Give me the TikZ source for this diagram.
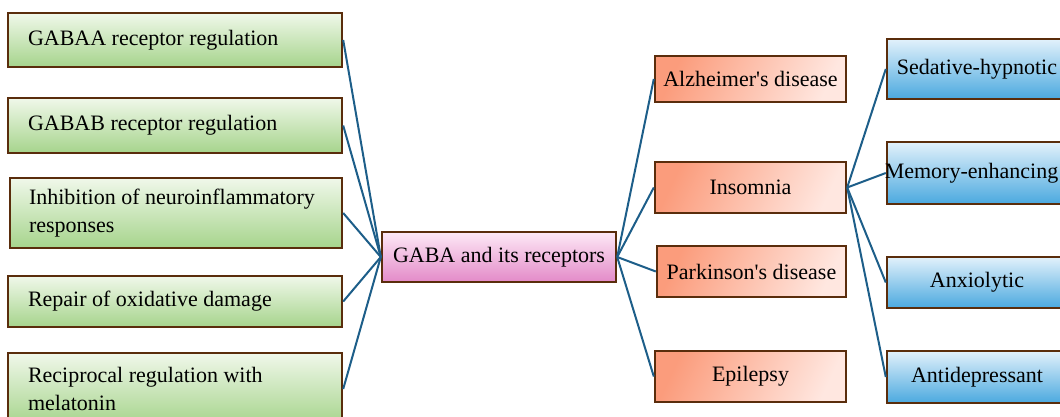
\documentclass[tikz,border=0pt]{standalone}
\usepackage{fontspec}
\setmainfont{Liberation Serif}[Ligatures=TeXOff]
\begin{document}
\begin{tikzpicture}[x=1pt,y=-1pt,
  every node/.style={font=\fontsize{22}{28}\selectfont},
  boxbase/.style={draw=brownline, line width=2.4pt, inner sep=0pt},
  greenbox/.style={boxbase, top color=greentop, bottom color=greenbot, minimum width=334pt, text width=294pt, align=flush left},
  pinkbox/.style={boxbase, top color=pinktop, bottom color=pinkbot, minimum width=234pt, minimum height=50pt, align=center},
  redbox/.style={boxbase, left color=redleft, right color=redright, shading angle=65, minimum width=191pt, minimum height=49pt, align=center},
  bluebox/.style={boxbase, top color=bluetop, middle color=bluemid, bottom color=bluebot, minimum width=180pt, align=center},
  link/.style={draw=linkblue, line width=2pt}
]
\definecolor{brownline}{HTML}{5A2D0C}
\definecolor{greentop}{HTML}{F0F8EA}
\definecolor{greenbot}{HTML}{A6D48C}
\definecolor{pinktop}{HTML}{FDE9F6}
\definecolor{pinkbot}{HTML}{E38AC8}
\definecolor{redleft}{HTML}{FB9C7C}
\definecolor{redright}{HTML}{FFE7E0}
\definecolor{bluetop}{HTML}{E2F1FB}
\definecolor{bluemid}{HTML}{66BBE7}
\definecolor{bluebot}{HTML}{4BA9DF}
\definecolor{linkblue}{HTML}{1D5E89}
\clip (0,0) rectangle (1060,417);

% green boxes
\node[greenbox, minimum height=54pt] (g1) at (175,40) {GABAA receptor regulation};
\node[greenbox, minimum height=55pt] (g2) at (175,125.5) {GABAB receptor regulation};
\node[greenbox, minimum height=70pt, minimum width=332pt] (g3) at (176,213) {Inhibition of neuroinflammatory\\responses};
\node[greenbox, minimum height=51pt] (g4) at (175,301.5) {Repair of oxidative damage};
\node[greenbox, minimum height=72pt] (g5) at (175,389) {Reciprocal regulation with\\melatonin};

% center
\node[pinkbox] (c) at (499,257) {GABA and its receptors};

% red boxes
\node[redbox, minimum height=46pt] (r1) at (750.5,79) {Alzheimer's disease};
\node[redbox, minimum height=51pt] (r2) at (750.5,187.5) {Insomnia};
\node[redbox, minimum height=51pt, minimum width=189pt] (r3) at (751.5,271.5) {Parkinson's disease};
\node[redbox, minimum height=51pt] (r4) at (750.5,376.5) {Epilepsy};

% blue boxes
\node[bluebox, minimum height=60pt] (b1) at (977,69) {Sedative-hypnotic};
\node[bluebox, minimum height=62pt] (b2) at (977,173) {};
\node[inner sep=0pt] (b2t) at (b2.center) [xshift=-5.5pt] {Memory-enhancing};
\node[bluebox, minimum height=51pt] (b3) at (977,282.5) {Anxiolytic};
\node[bluebox, minimum height=52pt] (b4) at (977,377) {Antidepressant};

% connectors
\foreach \n in {g1,g2,g3,g4,g5} \draw[link] (c.west) -- (\n.east);
\foreach \n in {r1,r2,r3,r4} \draw[link] (c.east) -- (\n.west);
\foreach \n in {b1,b2,b3,b4} \draw[link] (r2.east) -- (\n.west);
\end{tikzpicture}
\end{document}
